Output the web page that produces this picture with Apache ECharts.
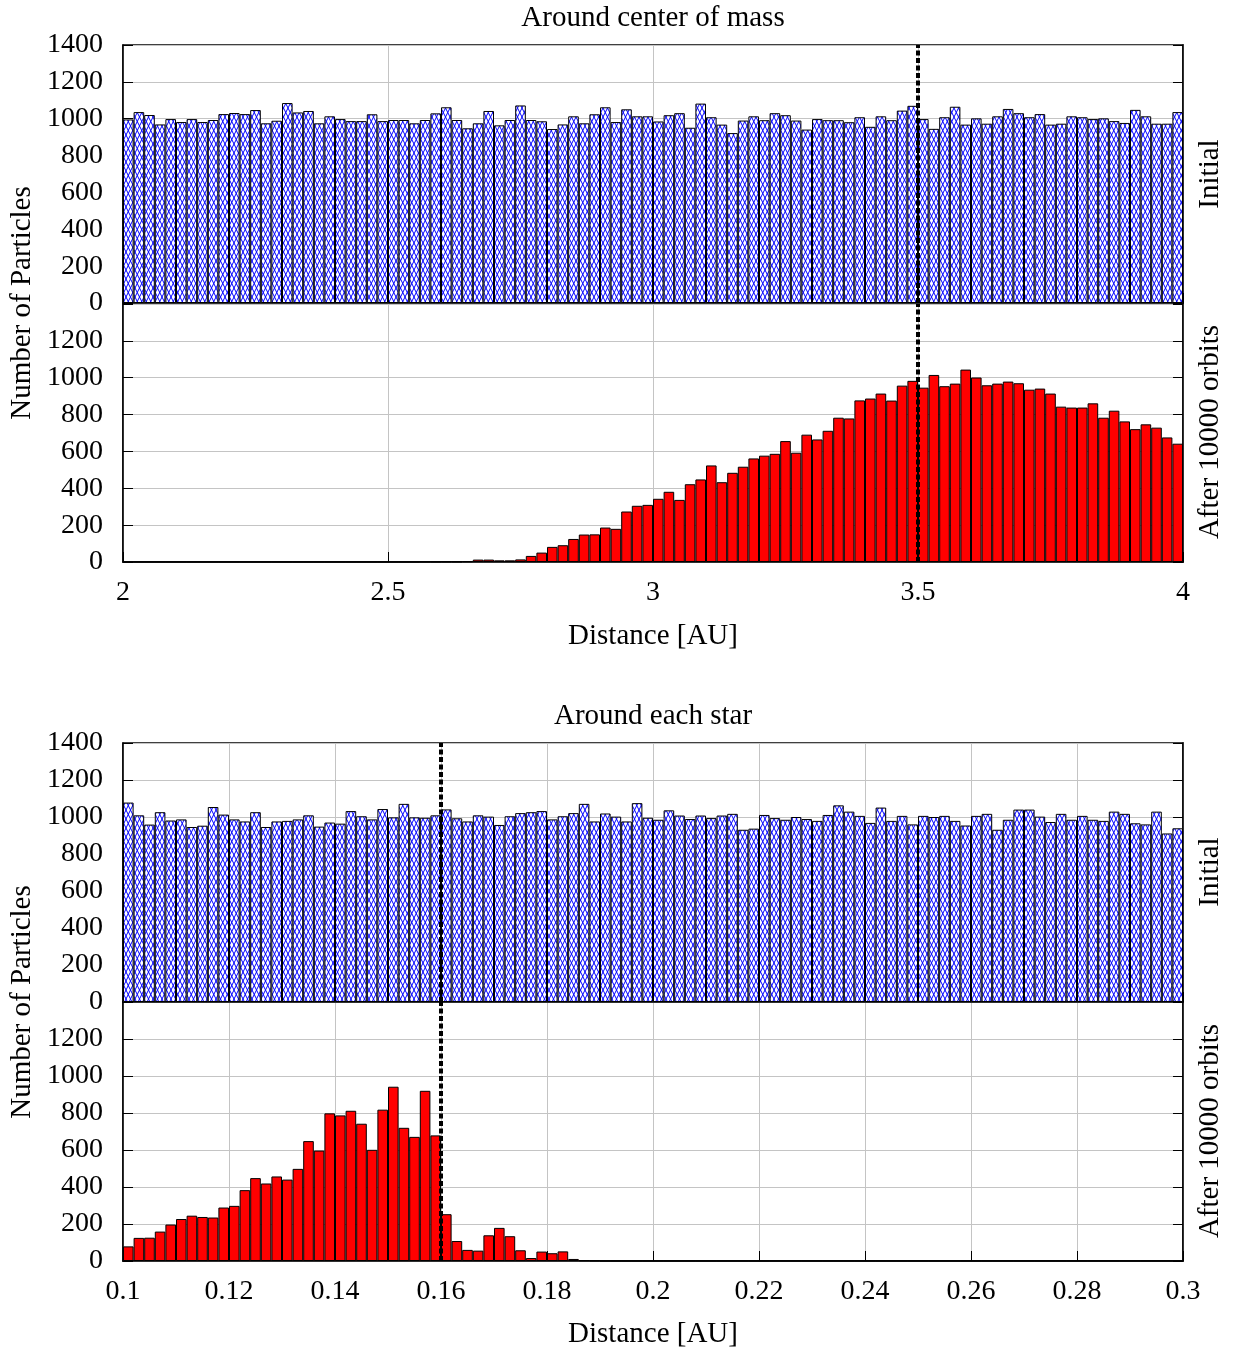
<!DOCTYPE html>
<html>
<head>
<meta charset="utf-8">
<script src="https://cdn.jsdelivr.net/npm/echarts@6/dist/echarts.min.js"></script>
<style>
  html, body { margin: 0; padding: 0; background: #fff; }
  #main { width: 1235px; height: 1353px; }
</style>
</head>
<body>
<div id="main"></div>
<script>
// bin counts, 100 bins per panel
var comInitial = [996, 1036, 1020, 969, 998, 982, 998, 982, 993, 1025, 1031, 1025, 1047, 975, 989, 1085, 1034, 1042, 975, 1013, 998, 987, 987, 1024, 987,
  993, 993, 975, 993, 1029, 1062, 993, 948, 975, 1042, 964, 993, 1072, 993, 986, 944, 969, 1013, 975, 1024, 1062, 982, 1051, 1013,
  1013, 985, 1019, 1030, 951, 1082, 1008, 968, 922, 990, 1013, 992, 1030, 1019, 990, 941, 998, 992, 992, 981, 1008, 956, 1013, 992, 1044, 1070,
  998, 945, 1008, 1065, 968, 1002, 973, 1013, 1053, 1030, 1008, 1025, 968, 973, 1013, 1008, 998, 1002, 987, 977, 1048, 1013, 973, 973, 1036];
var comAfter = [0, 0, 0, 0, 0, 0, 0, 0, 0, 0, 0, 0, 0, 0, 0, 0, 0, 0, 0, 0, 0, 0, 0, 0, 0, 0, 0, 0, 1, 1,
  2, 2, 4, 13, 13, 9, 9, 14, 33, 51, 82, 91, 125, 149, 150, 187, 180, 274, 305, 310,
  343, 381, 337, 422, 448, 524, 433, 484, 517, 562, 577, 587, 656, 593, 691, 665, 712, 783, 779, 877,
  887, 914, 876, 957, 983, 946, 1015, 954, 968, 1044, 1001, 959, 968, 979, 970, 935, 941, 914, 843, 838,
  838, 861, 783, 821, 763, 721, 747, 729, 676, 642];
var starInitial = [1078, 1009, 959, 1026, 981, 987, 946, 953, 1054, 1013, 987, 976, 1026, 946, 976, 979, 987, 1009, 948, 970, 964, 1032, 1004, 987, 1043,
  998, 1071, 998, 996, 1009, 1041, 993, 976, 1009, 1002, 957, 1004, 1021, 1026, 1032, 987, 1004, 1021, 1071, 976, 1019, 1002, 976, 1075, 996,
  985, 1036, 1008, 989, 1008, 994, 1008, 1017, 931, 937, 1011, 994, 985, 1000, 989, 979, 1011, 1063, 1029, 1006, 968, 1051, 979, 1006, 960,
  1006, 1000, 1006, 979, 954, 1006, 1017, 931, 985, 1040, 1040, 1002, 973, 1017, 985, 1006, 985, 979, 1029, 1017, 966, 960, 1029, 911, 939];
var starAfter = [79, 125, 126, 159, 197, 227, 245, 238, 235, 289, 298, 383, 448, 419, 457, 440, 498, 648, 597, 798,
  787, 812, 742, 601, 818, 942, 720, 671, 920, 679, 253, 108, 60, 56, 139, 179, 134, 58, 16, 51,
  42, 52, 11, 4, 2, 0, 0, 0, 0, 0, 0, 0, 0, 0, 0, 0, 0, 0, 0, 0,
  0, 0, 0, 0, 0, 0, 0, 0, 0, 0, 0, 0, 0, 0, 0, 0, 0, 0, 0, 0,
  0, 0, 0, 0, 0, 0, 0, 0, 0, 0, 0, 0, 0, 0, 0, 0, 0, 0, 0, 0];

var comRange = [2, 4];
var starRange = [0.1, 0.3];
var comTicks = ['2', '2.5', '3', '3.5', '4'];
var starTicks = ['0.1', '0.12', '0.14', '0.16', '0.18', '0.2', '0.22', '0.24', '0.26', '0.28', '0.3'];
var yTicks = ['0', '200', '400', '600', '800', '1000', '1200', '1400'];
var comCut = 3.5;
var starCut = 0.16;

var FONT = 'Liberation Serif';
var FS = 28;

function binNames(r, n) {
  var out = [];
  for (var i = 0; i < n; i++) out.push((r[0] + (r[1] - r[0]) * i / n).toFixed(4));
  return out;
}

// blue cross-hatch
function hatch() {
  var w = 9, h = 18, c = document.createElement('canvas');
  c.width = w; c.height = h;
  var g = c.getContext('2d');
  g.fillStyle = '#fff';
  g.fillRect(0, 0, w, h);
  g.strokeStyle = '#0000ff';
  g.lineWidth = 1;
  g.beginPath();
  for (var k = -2; k <= 4; k++) {
    var x0 = k * w / 2;
    g.moveTo(x0, 0); g.lineTo(x0 + w, h);
    g.moveTo(x0, 0); g.lineTo(x0 - w, h);
  }
  g.stroke();
  return c;
}
var blueFill = { image: hatch(), repeat: 'repeat' };

var panels = [
  { top: 45, height: 258, range: comRange, ticks: comTicks, data: comInitial, fill: blueFill, showX: false, cut: comCut, top1400: true },
  { top: 304, height: 258, range: comRange, ticks: comTicks, data: comAfter, fill: '#ff0000', showX: true, cut: comCut, top1400: false },
  { top: 743, height: 259, range: starRange, ticks: starTicks, data: starInitial, fill: blueFill, showX: false, cut: starCut, top1400: true },
  { top: 1002, height: 259, range: starRange, ticks: starTicks, data: starAfter, fill: '#ff0000', showX: true, cut: starCut, top1400: false }
];

var grid = [], xAxis = [], yAxis = [], series = [];
panels.forEach(function (p, i) {
  var step = (p.range[1] - p.range[0]) / (p.ticks.length - 1);
  grid.push({ left: 123, right: 52, top: p.top, height: p.height, show: true, borderColor: '#000', borderWidth: 1.5 });
  xAxis.push({ type: 'category', gridIndex: i, position: 'bottom', data: binNames(p.range, p.data.length), show: false, boundaryGap: true });
  xAxis.push({
    type: 'value', gridIndex: i, position: 'bottom', min: p.range[0], max: p.range[1], interval: step,
    axisLine: { show: true, onZero: false, lineStyle: { color: '#000', width: 1.5 } },
    axisTick: { show: true, inside: true, length: 10, lineStyle: { color: '#000', width: 1 } },
    axisLabel: {
      show: p.showX, margin: 17, color: '#000', fontFamily: FONT, fontSize: FS,
      formatter: function (v) { return p.ticks[Math.round((v - p.range[0]) / step)]; }
    },
    splitLine: { show: true, lineStyle: { color: '#c4c4c4', width: 1 } }
  });
  yAxis.push({
    type: 'value', gridIndex: i, position: 'left', min: 0, max: 1400, interval: 200,
    axisLine: { show: true, lineStyle: { color: '#000', width: 1.5 } },
    axisTick: { show: true, inside: true, length: 10, lineStyle: { color: '#000', width: 1 } },
    axisLabel: {
      margin: 20, color: '#000', fontFamily: FONT, fontSize: FS,
      formatter: function (v) { return (v === 1400 && !p.top1400) ? '' : yTicks[v / 200]; }
    },
    splitLine: { show: true, lineStyle: { color: '#c4c4c4', width: 1 } }
  });
  yAxis.push({
    type: 'value', gridIndex: i, position: 'right', min: 0, max: 1400, interval: 200,
    axisLine: { show: true, lineStyle: { color: '#000', width: 1.5 } },
    axisTick: { show: true, inside: true, length: 10, lineStyle: { color: '#000', width: 1 } },
    axisLabel: { show: false },
    splitLine: { show: false }
  });
  series.push({
    type: 'bar', xAxisIndex: 2 * i, yAxisIndex: 2 * i, data: p.data,
    barCategoryGap: '0%',
    itemStyle: { color: p.fill, borderColor: '#000', borderWidth: 1 },
    silent: true
  });
  series.push({
    type: 'line', xAxisIndex: 2 * i + 1, yAxisIndex: 2 * i,
    data: [[p.cut, 0], [p.cut, 1400]],
    symbol: 'none', silent: true, z: 10,
    lineStyle: { color: '#000', width: 4, type: [5, 2.5] }
  });
});

function txt(s, x, y, rot) {
  return {
    type: 'text', x: x, y: y, rotation: rot || 0,
    style: { text: s, font: '29px "' + FONT + '"', fill: '#000', textAlign: 'center', textVerticalAlign: 'middle', verticalAlign: 'middle' }
  };
}

var chart = echarts.init(document.getElementById('main'));
chart.setOption({
  animation: false,
  backgroundColor: '#fff',
  grid: grid,
  xAxis: xAxis,
  yAxis: yAxis,
  series: series,
  graphic: [
    txt('Around center of mass', 653, 18),
    txt('Number of Particles', 22, 303, Math.PI / 2),
    txt('Initial', 1210, 174, Math.PI / 2),
    txt('After 10000 orbits', 1210, 432, Math.PI / 2),
    txt('Distance [AU]', 653, 636),
    txt('Around each star', 653, 716),
    txt('Number of Particles', 22, 1002, Math.PI / 2),
    txt('Initial', 1210, 872, Math.PI / 2),
    txt('After 10000 orbits', 1210, 1131, Math.PI / 2),
    txt('Distance [AU]', 653, 1334)
  ]
});
</script>
</body>
</html>
